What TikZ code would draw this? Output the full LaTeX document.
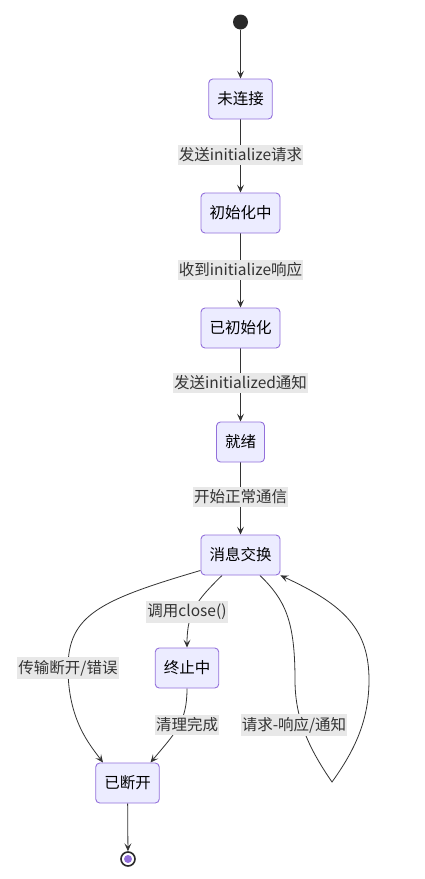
\documentclass[tikz,border=0pt]{standalone}
\usepackage{fontspec}
\setmainfont{Noto Sans CJK SC}
\usetikzlibrary{arrows.meta,calc}
\pgfdeclarelayer{background}
\pgfdeclarelayer{canvas}
\pgfsetlayers{canvas,background,main}
\definecolor{nodefill}{HTML}{ECECFF}
\definecolor{nodeline}{HTML}{9370DB}
\definecolor{lblfill}{HTML}{E8E8E8}
\definecolor{ink}{HTML}{333333}
\tikzset{
  state/.style={draw=nodeline, fill=nodefill, line width=0.9pt, rounded corners=4pt,
    minimum height=40pt, inner xsep=8.5pt, text=black, font=\fontsize{15.5}{18}\selectfont},
  lbl/.style={fill=lblfill, inner xsep=1pt, inner ysep=3pt, text=ink, font=\fontsize{15.5}{18}\selectfont},
  arr/.style={draw=ink, line width=0.8pt, -{Stealth[length=8pt,width=7pt,inset=3.5pt]}},
}
\begin{document}
\begin{tikzpicture}[x=1pt,y=-1pt]
\useasboundingbox (0,0) rectangle (425,879);
\begin{pgfonlayer}{canvas}
\fill[white] (0,0) rectangle (425,879);
\end{pgfonlayer}
% nodes
\node[circle, fill=ink!80!black, minimum size=15pt, inner sep=0pt] (s) at (240.5,22) {};
\node[state] (n1) at (240.5,99) {未连接};
\node[state] (n2) at (240.5,213) {初始化中};
\node[state] (n3) at (240.5,328) {已初始化};
\node[state] (n4) at (240.5,442) {就绪};
\node[state] (n6) at (240.5,555) {消息交换};
\node[state] (n7) at (187,668) {终止中};
\node[state] (n9) at (127.5,783) {已断开};
\node[circle, draw=ink!80!black, line width=1.6pt, fill=white, minimum size=14pt, inner sep=0pt] (e) at (128,859) {};
\fill[nodeline] (e.center) circle (4pt);
% labels
\node[lbl] (l1) at (240.5,155) {发送initialize请求};
\node[lbl] (l2) at (240.5,270) {收到initialize响应};
\node[lbl] (l3) at (240.5,383) {发送initialized通知};
\node[lbl] (l4) at (240.5,497) {开始正常通信};
\node[lbl] (l5) at (187,612) {调用close()};
\node[lbl] (l6) at (68,668) {传输断开/错误};
\node[lbl] (l7) at (187,725) {清理完成};
\node[lbl] (l8) at (294,725) {请求-响应/通知};
% edges
\begin{pgfonlayer}{background}
\draw[arr] (s) -- (n1);
\draw[arr] (n1) -- (n2);
\draw[arr] (n2) -- (n3);
\draw[arr] (n3) -- (n4);
\draw[arr] (n4) -- (n6);
\draw[arr] (n9) -- (e);
\draw[arr] ($(n6.south west)+(0,-5)$) .. controls (100,600) and (68,615) .. (l6.center)
   .. controls (68,720) and (90,745) .. ($(n9.north)+(-24.5,0)$);
\draw[arr] ($(n6.south)+(-18.5,0)$) .. controls (197,600) and (187,612) .. (n7.north);
\draw[arr] (n7.south) .. controls (187,722) and (176,732) .. ($(n9.north)+(23,0)$);
\draw[arr] ($(n6.south)+(19.5,0)$) .. controls (285,600) and (295,620) .. (295,680)
   .. controls (295,720) and (310,750) .. (332,782)
   .. controls (355,750) and (369,720) .. (369,680)
   .. controls (369,630) and (345,605) .. (n6.south east);
\end{pgfonlayer}
\end{tikzpicture}
\end{document}
